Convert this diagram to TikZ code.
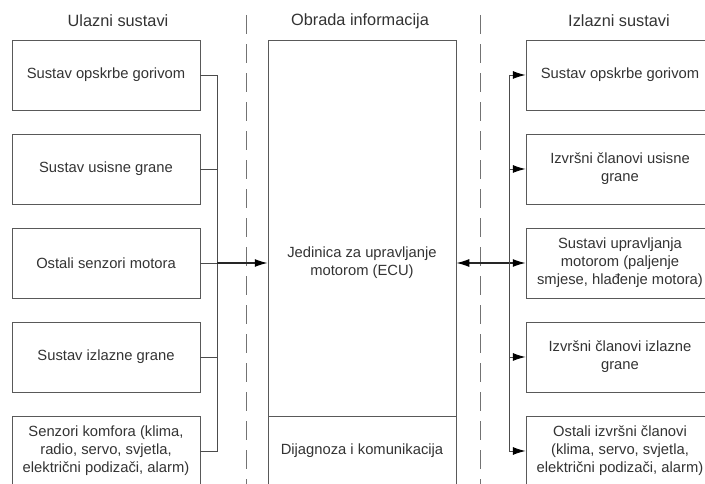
\documentclass[tikz,border=0pt]{standalone}
\usepackage{fontspec}
\setmainfont{Liberation Sans}
\usetikzlibrary{arrows.meta}

\tikzset{
    box/.style={draw=black!65, line width=0.6pt, minimum width=4.7cm, minimum height=1.75cm,
        align=center, inner sep=0pt, text=black!80, font=\fontsize{10.5}{12.8}\selectfont},
    title/.style={text=black!80, font=\fontsize{11.6}{14}\selectfont},
    wire/.style={draw=black!70, line width=0.6pt},
    sep/.style={draw=black!55, line width=0.6pt, dash pattern=on 0.475cm off 0.25cm},
    tip/.style={-{Latex[length=3.2mm,width=2mm,color=black]}},
    tips/.style={{Latex[length=3.2mm,width=2mm,color=black]}-{Latex[length=3.2mm,width=2mm,color=black]}},
}

\begin{document}
\begin{tikzpicture}[x=0.025cm, y=-0.025cm]
    \useasboundingbox (0,0) rectangle (705,484);

    \node[title] (tin)  at (118,21) {Ulazni sustavi};
    \node[title] (tecu) at (360,21) {Obrada informacija};
    \node[title] (tout) at (619,21) {Izlazni sustavi};

    \draw [sep] (246,15) -- (246,490);
    \draw [sep] (480,15) -- (480,490);

    \node[box] (in1) at (106,75)  {Sustav opskrbe gorivom};
    \node[box] (in2) at (106,169) {Sustav usisne grane};
    \node[box] (in3) at (106,263) {Ostali senzori motora};
    \node[box] (in4) at (106,357) {Sustav izlazne grane};
    \node[box] (in5) at (106,451) {Senzori komfora (klima,\\radio, servo, svjetla,\\električni podizači, alarm)};

    \node[box, minimum height=11.15cm] (ecu) at (362,263) {Jedinica za upravljanje\\motorom (ECU)};
    \node[box] (diag) at (362,451) {Dijagnoza i komunikacija};

    \node[box] (out1) at (620,75)  {Sustav opskrbe gorivom};
    \node[box] (out2) at (620,169) {Izvršni članovi usisne\\grane};
    \node[box] (out3) at (620,263) {Sustavi upravljanja\\motorom (paljenje\\smjese, hlađenje motora)};
    \node[box] (out4) at (620,357) {Izvršni članovi izlazne\\grane};
    \node[box] (out5) at (620,451) {Ostali izvršni članovi\\(klima, servo, svjetla,\\električni podizači, alarm)};

    \coordinate (busL) at (217,0);
    \coordinate (busR) at (509,0);

    % ulazi
    \draw [wire] (in1.east) -| (busL |- in5.east) -- (in5.east);
    \draw [wire] (in2.east) -- (busL |- in2.east);
    \draw [wire] (in3.east) -- (busL |- in3.east);
    \draw [wire] (in4.east) -- (busL |- in4.east);
    \draw [wire, tip, line width=0.9pt, draw=black!85] (busL |- in3.east) -- (ecu.west);

    % izlazi
    \draw [wire, tips, line width=0.9pt, draw=black!85] (ecu.east) -- (out3.west);
    \draw [wire] (busR |- out1.west) -- (busR |- out5.west);
    \draw [wire, tip] (busR |- out1.west) -- (out1.west);
    \draw [wire, tip] (busR |- out2.west) -- (out2.west);
    \draw [wire, tip] (busR |- out4.west) -- (out4.west);
    \draw [wire, tip] (busR |- out5.west) -- (out5.west);
\end{tikzpicture}
\end{document}
